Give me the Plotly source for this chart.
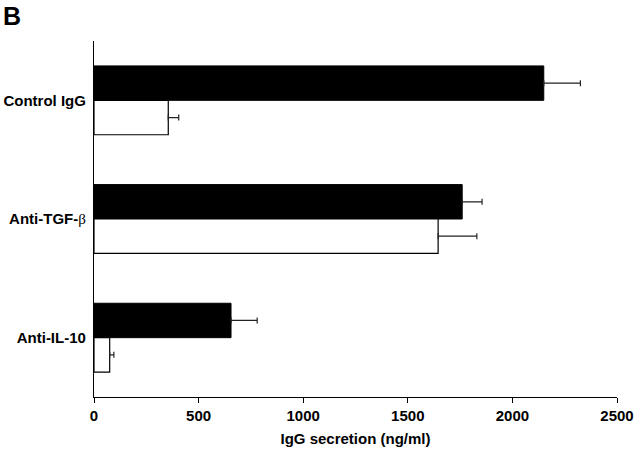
import plotly.graph_objects as go

# data
groups = ["Control IgG", "Anti-TGF-β", "Anti-IL-10"]
filled_vals = [2150, 1760, 655]
filled_err = [175, 95, 125]
open_vals = [355, 1645, 75]
open_err = [50, 185, 20]

# the beta is set in a serif face in the original
labels = [g.replace("β", "<span style='font-family:Liberation Serif;font-weight:normal;color:black'>β</span>")
          for g in groups]

fig = go.Figure()

fig.add_trace(go.Bar(
    y=labels, x=filled_vals, orientation="h",
    marker=dict(color="black", line=dict(color="black", width=1)),
    error_x=dict(type="data", array=filled_err, arrayminus=[0] * 3,
                 symmetric=False, color="#222", thickness=1.2, width=3),
    showlegend=False,
))

fig.add_trace(go.Bar(
    y=labels, x=open_vals, orientation="h",
    marker=dict(color="white", line=dict(color="black", width=1.2)),
    error_x=dict(type="data", array=open_err, arrayminus=[0] * 3,
                 symmetric=False, color="#222", thickness=1.2, width=3),
    showlegend=False,
))

fig.update_layout(
    width=640, height=454,
    margin=dict(l=94, r=23, t=41, b=57),
    paper_bgcolor="white", plot_bgcolor="white",
    barmode="group", bargap=0.42, bargroupgap=0,
    font=dict(family="Liberation Sans, Arial", size=15, color="black"),
    xaxis=dict(
        range=[0, 2500], tickvals=[0, 500, 1000, 1500, 2000, 2500],
        showline=True, linecolor="black", linewidth=1.2,
        ticks="outside", ticklen=5, tickcolor="black",
        showgrid=False, zeroline=False, automargin=False,
        tickfont=dict(size=15, weight="bold"),
        title=dict(text="IgG secretion (ng/ml)", font=dict(size=15, weight="bold"), standoff=10),
    ),
    yaxis=dict(
        autorange="reversed",
        showline=True, linecolor="black", linewidth=1.2,
        ticks="", showgrid=False, zeroline=False, automargin=False,
        tickfont=dict(size=15, weight="bold"),
        ticklabelstandoff=4,
    ),
    annotations=[dict(
        text="<b>B</b>", x=0, y=1, xref="paper", yref="paper",
        xanchor="left", yanchor="top", showarrow=False,
        font=dict(size=25, family="Liberation Sans, Arial"),
        xshift=-93, yshift=41,
    )],
)

# drop the default page margin so the figure sits at the window corner
fig.write_html("out.html", config={"displayModeBar": False},
               post_script="document.body.style.margin='0';")
